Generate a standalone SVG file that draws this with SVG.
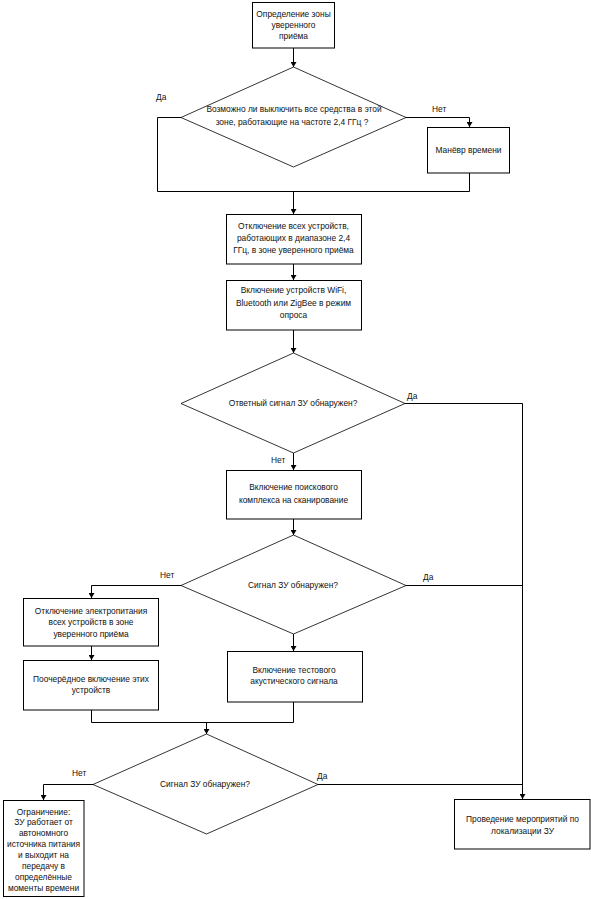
<svg xmlns="http://www.w3.org/2000/svg" width="591" height="899" viewBox="0 0 591 899">
<style>
.box{fill:#fff;stroke:#000;stroke-width:1}
.dia{fill:#fff;stroke:#000;stroke-width:0.8}
.t{font-family:"Liberation Sans","DejaVu Sans",sans-serif;font-size:8.4px;fill:#111;text-anchor:middle}
.l{font-family:"Liberation Sans","DejaVu Sans",sans-serif;font-size:8.4px;fill:#111}
.c{fill:none;stroke:#000;stroke-width:1}
</style>
<defs>
<marker id="ah" markerWidth="6" markerHeight="6" refX="5" refY="3" orient="auto" markerUnits="userSpaceOnUse">
<path d="M0,0 L5,3 L0,6 Z" fill="#000"/>
</marker>
</defs>
<rect width="591" height="899" fill="#fff"/>
<g id="connectors">
<path class="c" d="M293.5,48 V67" marker-end="url(#ah)"/>
<path class="c" d="M181,117.5 H157.5 V191.5 H469.5 V173"/>
<path class="c" d="M293.5,191.5 V214" marker-end="url(#ah)"/>
<path class="c" d="M406,117.5 H469.5 V127" marker-end="url(#ah)"/>
<path class="c" d="M293.5,264 V280" marker-end="url(#ah)"/>
<path class="c" d="M293.5,330 V353" marker-end="url(#ah)"/>
<path class="c" d="M405,403.5 H522.5 V799" marker-end="url(#ah)"/>
<path class="c" d="M293.5,453 V470" marker-end="url(#ah)"/>
<path class="c" d="M293.5,519 V535" marker-end="url(#ah)"/>
<path class="c" d="M406,585.5 H522.5"/>
<path class="c" d="M181,585.5 H91.5 V598" marker-end="url(#ah)"/>
<path class="c" d="M91.5,646 V660" marker-end="url(#ah)"/>
<path class="c" d="M293.5,634 V651" marker-end="url(#ah)"/>
<path class="c" d="M91.5,710 V722.5 H293.5 V702"/>
<path class="c" d="M206.5,722.5 V734" marker-end="url(#ah)"/>
<path class="c" d="M93,784.5 H43.5 V800" marker-end="url(#ah)"/>
<path class="c" d="M318,784.5 H522.5"/>
</g>
<g id="n1">
<rect class="box" x="252.5" y="2.5" width="82" height="45.5"/>
<text class="t" x="293.5" y="17">Определение зоны</text>
<text class="t" x="293.5" y="28">уверенного</text>
<text class="t" x="293.5" y="39">приёма</text>
</g>
<g id="d1">
<polygon class="dia" points="293.5,67 406,117.5 293.5,167 181,117.5"/>
<text class="t" x="294" y="112">Возможно ли выключить все средства в этой</text>
<text class="t" x="292" y="125">зоне, работающие на частоте 2,4 ГГц ?</text>
<text class="l" x="156" y="100">Да</text>
<text class="l" x="432" y="112">Нет</text>
</g>
<g id="n_manevr">
<rect class="box" x="427.5" y="127.5" width="82" height="45.5"/>
<text class="t" x="468.5" y="153">Манёвр времени</text>
</g>
<g id="n2">
<rect class="box" x="226.5" y="214.5" width="135" height="49.5"/>
<text class="t" x="293.5" y="229">Отключение всех устройств,</text>
<text class="t" x="293.5" y="241">работающих в диапазоне 2,4</text>
<text class="t" x="293.5" y="253">ГГц, в зоне уверенного приёма</text>
</g>
<g id="n3">
<rect class="box" x="226.5" y="280.5" width="135" height="49.5"/>
<text class="t" x="293.5" y="293">Включение устройств WiFi,</text>
<text class="t" x="293.5" y="305.5">Bluetooth или ZigBee в режим</text>
<text class="t" x="293.5" y="318">опроса</text>
</g>
<g id="d2">
<polygon class="dia" points="293.5,353 405,403.5 293.5,453 181,403.5"/>
<text class="t" x="293" y="406">Ответный сигнал ЗУ обнаружен?</text>
<text class="l" x="407" y="399">Да</text>
<text class="l" x="271" y="463">Нет</text>
</g>
<g id="n4">
<rect class="box" x="226.5" y="470.5" width="135" height="48.5"/>
<text class="t" x="293.5" y="490">Включение поискового</text>
<text class="t" x="293.5" y="502.5">комплекса на сканирование</text>
</g>
<g id="d3">
<polygon class="dia" points="293.5,535 406,585.5 293.5,634 181,585.5"/>
<text class="t" x="293" y="588">Сигнал ЗУ обнаружен?</text>
<text class="l" x="423" y="580">Да</text>
<text class="l" x="160" y="578">Нет</text>
</g>
<g id="n6">
<rect class="box" x="23.5" y="598.5" width="135" height="47.5"/>
<text class="t" x="91" y="614">Отключение электропитания</text>
<text class="t" x="91" y="625">всех устройств в зоне</text>
<text class="t" x="91" y="636.5">уверенного приёма</text>
</g>
<g id="n7">
<rect class="box" x="23.5" y="660.5" width="135" height="49.5"/>
<text class="t" x="91" y="681.5">Поочерёдное включение этих</text>
<text class="t" x="91" y="693">устройств</text>
</g>
<g id="n5">
<rect class="box" x="227.5" y="651.5" width="135" height="50.5"/>
<text class="t" x="294" y="672.5">Включение тестового</text>
<text class="t" x="294" y="684">акустического сигнала</text>
</g>
<g id="d4">
<polygon class="dia" points="206.5,734 318,784.5 206.5,834 93,784.5"/>
<text class="t" x="205" y="787">Сигнал ЗУ обнаружен?</text>
<text class="l" x="317" y="779">Да</text>
<text class="l" x="72" y="776">Нет</text>
</g>
<g id="n8">
<rect class="box" x="3.5" y="800.5" width="80.5" height="96"/>
<text class="t" x="43.5" y="814.5">Ограничение:</text>
<text class="t" x="43.5" y="825.4">ЗУ работает от</text>
<text class="t" x="43.5" y="836.3">автономного</text>
<text class="t" x="43.5" y="847.2">источника питания</text>
<text class="t" x="43.5" y="858.1">и выходит на</text>
<text class="t" x="43.5" y="869">передачу в</text>
<text class="t" x="43.5" y="879.9">определённые</text>
<text class="t" x="43.5" y="890.8">моменты времени</text>
</g>
<g id="n9">
<rect class="box" x="454.5" y="799.5" width="135.5" height="49.5"/>
<text class="t" x="522.5" y="822">Проведение мероприятий по</text>
<text class="t" x="522.5" y="834">локализации ЗУ</text>
</g>
</svg>
